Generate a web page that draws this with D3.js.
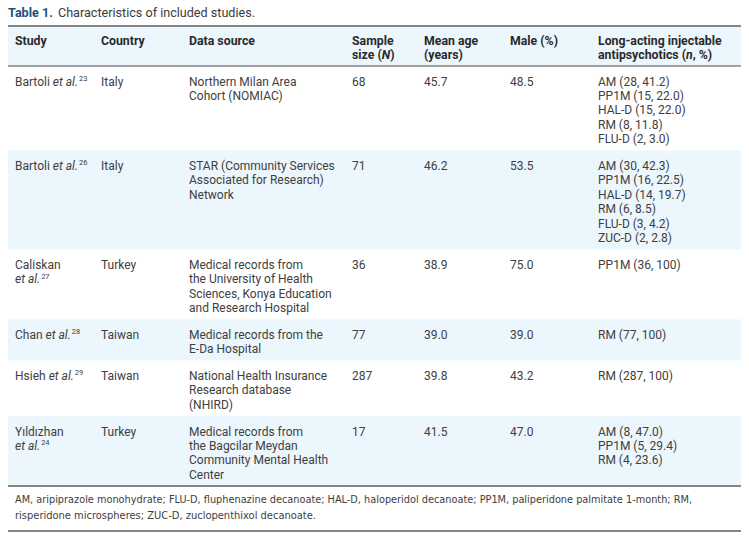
<!DOCTYPE html>
<html><head><meta charset="utf-8">
<script src="https://cdn.jsdelivr.net/npm/d3@7"></script>
<style>body{margin:0;background:#fff}</style>
</head><body><svg id="c" width="749" height="539"></svg>
<script>
// ---- data ----
const studyAuthors = ["Bartoli","Bartoli","Caliskan","Chan","Hsieh","Yıldızhan"];
const studyRefs = ["23","26","27","28","29","24"];
const studyBreak = [false,false,true,false,false,true];
const countries = ["Italy","Italy","Turkey","Taiwan","Taiwan","Turkey"];
const dataSources = [
  ["Northern Milan Area","Cohort (NOMIAC)"],
  ["STAR (Community Services","Associated for Research)","Network"],
  ["Medical records from","the University of Health","Sciences, Konya Education","and Research Hospital"],
  ["Medical records from the","E-Da Hospital"],
  ["National Health Insurance","Research database","(NHIRD)"],
  ["Medical records from","the Bagcilar Meydan","Community Mental Health","Center"]];
const sampleSizes = ["68","71","36","77","287","17"];
const meanAges = ["45.7","46.2","38.9","39.0","39.8","41.5"];
const malePct = ["48.5","53.5","75.0","39.0","43.2","47.0"];
const laiDrugs = [["AM","PP1M","HAL-D","RM","FLU-D"],["AM","PP1M","HAL-D","RM","FLU-D","ZUC-D"],["PP1M"],["RM"],["RM"],["AM","PP1M","RM"]];
const laiN = [["28","15","15","8","2"],["30","16","14","6","3","2"],["36"],["77"],["287"],["8","5","4"]];
const laiPct = [["41.2","22.0","22.0","11.8","3.0"],["42.3","22.5","19.7","8.5","4.2","2.8"],["100"],["100"],["100"],["47.0","29.4","23.6"]];
const headers = [["Study"],["Country"],["Data source"],["Sample","size (*N*)"],["Mean age","(years)"],["Male (%)"],["Long-acting injectable","antipsychotics (*n*, %)"]];
const titleLabel = "Table 1.";
const titleText = "Characteristics of included studies.";
const footnote = ["AM, aripiprazole monohydrate; FLU-D, fluphenazine decanoate; HAL-D, haloperidol decanoate; PP1M, paliperidone palmitate 1-month; RM,",
                  "risperidone microspheres; ZUC-D, zuclopenthixol decanoate."];

// ---- layout ----
const W = 749, H = 539;
const tableL = 8, tableR = 741;
const colKeys = ["study","country","source","n","age","male","lai"];
const colX = d3.scaleOrdinal().domain(colKeys).range([15,101,189,352,424,510,598]);
const FONT = "Roboto, 'Noto Sans', sans-serif";
const textCol = "#404040";
const bandCol = "#ecf6fd";
const ruleCol = "#858585";
const lh = 14.45, pad = 12.2;
const headTop = 26, headBot = 66;

const svg = d3.select("#c").style("font-family", FONT);

// build rows
const rows = studyAuthors.map((a,i)=>{
  const study = studyBreak[i]
    ? [[{t:a}], [{t:"et al.",it:true},{t:studyRefs[i],sup:true}]]
    : [[{t:a+" "},{t:"et al.",it:true},{t:studyRefs[i],sup:true}]];
  const cells = {
    study,
    country:[[{t:countries[i]}]],
    source:dataSources[i].map(s=>[{t:s}]),
    n:[[{t:sampleSizes[i]}]],
    age:[[{t:meanAges[i]}]],
    male:[[{t:malePct[i]}]],
    lai:laiDrugs[i].map((d,j)=>[{t:`${d} (${laiN[i][j]}, ${laiPct[i][j]})`}])
  };
  const nl = d3.max(Object.values(cells), c=>c.length);
  return {cells, nl};
});
let y = headBot;
rows.forEach(r=>{ r.y0 = y; r.h = r.nl*lh + pad; y += r.h; });
const tableBot = y;

function parseMarks(s){
  return s.split(/(\*[^*]+\*)/).filter(x=>x).map(p=> p.startsWith("*") ? {t:p.slice(1,-1),it:true} : {t:p});
}
function writeLine(sel, segs, size){
  segs.forEach(sg=>{
    const ts = sel.append("tspan").text(sg.t);
    if (sg.it) ts.attr("font-style","italic");
    if (sg.sup) ts.attr("font-size", size*0.62).attr("dy",-4.5).attr("dx",1);
  });
}

// title
const title = svg.append("text").attr("x",tableL).attr("y",17).attr("font-size",12.6);
title.append("tspan").text(titleLabel).attr("font-weight","bold").attr("fill","#1d4f80");
title.append("tspan").text(" "+titleText).attr("fill","#3b3b3b").attr("dx",2);

// header band
svg.append("rect").attr("x",tableL).attr("y",headTop).attr("width",tableR-tableL).attr("height",headBot-headTop).attr("fill",bandCol);

// row bands
svg.selectAll("rect.band").data(rows.filter((r,i)=>i%2===1)).join("rect")
  .attr("class","band").attr("x",tableL).attr("y",d=>d.y0).attr("width",tableR-tableL).attr("height",d=>d.h).attr("fill",bandCol);

// header text
headers.forEach((hl,ci)=>{
  hl.forEach((line,li)=>{
    const t = svg.append("text").attr("x",colX(colKeys[ci])).attr("y",headTop+19+li*lh)
      .attr("font-size",12.3).attr("font-weight","bold").attr("fill","#2a2a2a");
    writeLine(t, parseMarks(line), 12.3);
  });
});

// body text
rows.forEach(r=>{
  colKeys.forEach(k=>{
    r.cells[k].forEach((segs,li)=>{
      const t = svg.append("text").attr("x",colX(k)).attr("y",r.y0+19.5+li*lh)
        .attr("font-size",12).attr("fill",textCol);
      writeLine(t, segs, 12);
    });
  });
});

// rules
const rules = [headTop, headBot, tableBot, H-8];
svg.selectAll("line.rule").data(rules).join("line").attr("class","rule")
  .attr("x1",tableL).attr("x2",tableR).attr("y1",d=>d).attr("y2",d=>d)
  .attr("stroke",ruleCol).attr("stroke-width",(d,i)=> i===1?1.3:1.8);

// footnote
const fnLens = [677, 301];
footnote.forEach((l,i)=>{
  svg.append("text").attr("x",15).attr("y",tableBot+17+i*15.5).attr("font-size",11)
    .attr("font-family","'Liberation Sans Narrow', 'DejaVu Sans Condensed', Roboto, sans-serif")
    .attr("fill",textCol).attr("textLength",fnLens[i]).attr("lengthAdjust","spacingAndGlyphs").text(l);
});
</script>
</body></html>
